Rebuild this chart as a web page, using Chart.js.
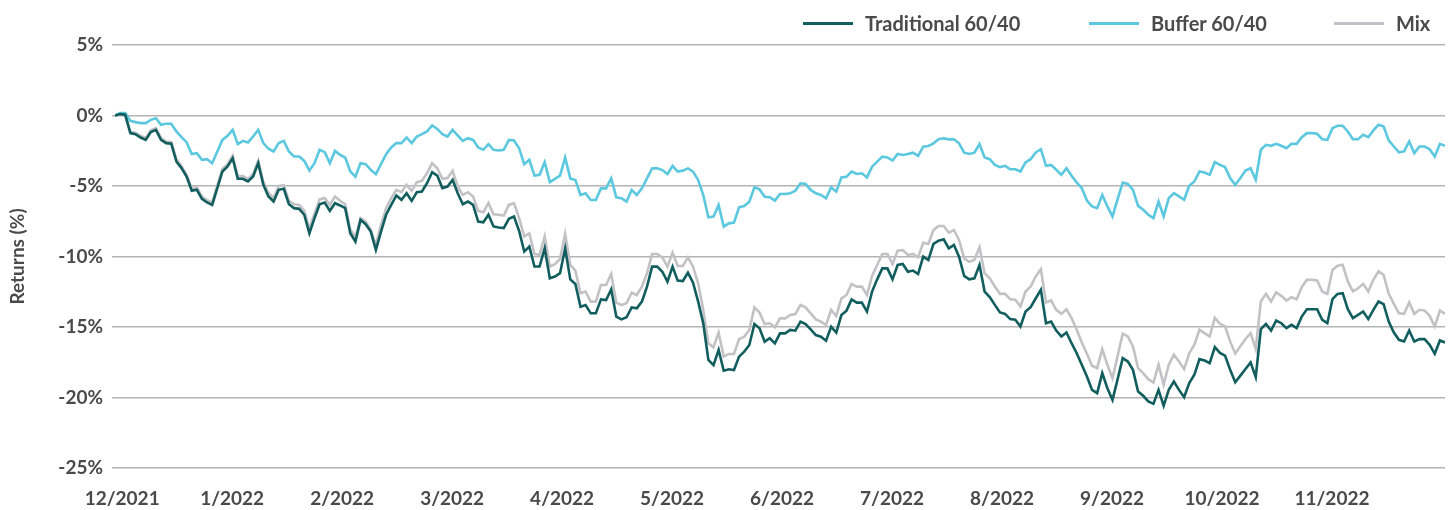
<!DOCTYPE html>
<html>
<head>
<meta charset="utf-8">
<script src="https://cdn.jsdelivr.net/npm/chart.js@4/dist/chart.umd.min.js"></script>
<style>
  body { margin: 0; background: #fff; }
  #wrap { position: relative; width: 1448px; height: 510px; }
  .leg { position: absolute; top: 11px; display: flex; align-items: center;
         font: 700 20px Lato, sans-serif; color: #4a4a4a; white-space: nowrap; }
  .leg i { display: inline-block; width: 50px; height: 3px; margin-right: 12px; }
</style>
</head>
<body>
<div id="wrap">
  <canvas id="chart" width="1448" height="510"></canvas>
  <div class="leg" style="left:803px"><i style="background:#125d5d"></i>Traditional 60/40</div>
  <div class="leg" style="left:1089px"><i style="background:#5cc8df"></i>Buffer 60/40</div>
  <div class="leg" style="left:1334px"><i style="background:#c2c2c6"></i>Mix</div>
</div>
<script>
// month tick labels (evenly spaced along the trading-day index)
const months = ['12/2021', '1/2022', '2/2022', '3/2022', '4/2022', '5/2022',
  '6/2022', '7/2022', '8/2022', '9/2022', '10/2022', '11/2022'];
const tickStart = 1.4;
const tickStep = 21.5;

// cumulative returns, %
const trad = [
  0, 0.1, 0.05, -1.25, -1.32, -1.56, -1.73, -1.18, -1.02, -1.73, -1.96, -2.0, -3.26, -3.73, -4.33, -5.34, -5.27, -5.91, -6.17, -6.34, -5.15, -3.97, -3.62, -3.03, -4.49, -4.49, -4.68, -4.33, -3.38, -4.92, -5.74, -6.1, -5.27, -5.2, -6.29, -6.57, -6.62, -7.04, -8.35, -7.28, -6.29, -6.17,
  -6.76, -6.22, -6.38, -6.57, -8.35, -8.94, -7.4, -7.71, -8.23, -9.53, -8.23, -7.04, -6.34, -5.67, -5.98, -5.51, -6.05, -5.44, -5.39, -4.8, -4.02, -4.26, -5.15, -5.04, -4.56, -5.51, -6.29, -6.1, -6.34, -7.52, -7.57, -7.04, -7.87, -7.94, -7.99, -7.33, -7.16, -8.18, -9.65, -9.29, -10.71, -10.71, -9.41, -11.54, -11.42, -11.18,
  -9.42, -11.62, -11.95, -13.56, -13.44, -14.03, -14.03, -13.04, -13.09, -12.33, -14.27, -14.46, -14.31, -13.61, -13.68, -13.2, -12.14, -10.72, -10.72, -11.08, -11.78, -10.72, -11.71, -11.74, -11.15, -11.86, -13.2, -14.74,
  -17.34, -17.7, -16.63, -18.1, -18.0, -18.05, -17.1, -16.75, -16.28, -14.79, -15.09, -16.04,
  -15.8, -16.16, -15.45, -15.45, -15.21, -15.26, -14.62, -14.79, -15.17, -15.57, -15.69, -15.97, -14.98, -15.4, -14.15, -13.84, -13.04, -13.27, -13.27, -13.91, -12.49, -11.62, -10.84, -10.84, -11.62, -10.6, -10.53, -11.08, -11.0, -11.24, -10.01, -10.25, -9.11, -8.88, -8.78, -9.42, -9.18, -10.01, -11.38, -11.62, -11.55, -10.6, -12.49,
  -12.88, -13.43, -13.97, -14.07, -14.44, -14.49, -14.96, -13.9, -13.59, -12.96, -12.36, -14.73, -14.61, -15.25, -15.67, -15.39, -16.15, -16.86, -17.68, -18.51, -19.46, -19.69, -18.27, -19.34, -20.17, -18.7, -17.21, -17.45, -18.04, -19.57, -19.88, -20.28, -20.45, -19.46, -20.59, -19.46, -18.87, -19.46, -19.98, -18.98, -18.39, -17.28, -17.38, -17.57,
  -16.42, -16.84, -17.03, -18.03, -18.92, -18.45, -17.98, -17.51, -18.55, -15.15, -14.78, -15.25, -14.54, -14.73, -15.08, -14.85, -15.08, -14.26, -13.74, -13.74, -13.74, -14.49, -14.73, -13.03, -12.65, -12.6, -13.74, -14.37, -14.14, -13.9, -14.44, -13.78, -13.19, -13.38, -14.61, -15.39, -15.91, -16.03, -15.25, -16.03, -15.86, -15.86, -16.26, -16.9, -15.96, -16.1
];

const buffer = [
  0, 0.17, 0.17, -0.38, -0.47, -0.54, -0.54, -0.31, -0.19, -0.66, -0.59, -0.59, -1.13, -1.54, -1.89, -2.74, -2.67, -3.14, -3.1, -3.38, -2.55, -1.73, -1.44, -1.02, -2.03, -1.8, -1.91, -1.49, -1.02, -1.96, -2.36, -2.55, -1.96, -1.8, -2.55, -2.91, -2.91, -3.22, -3.9, -3.38, -2.43, -2.6,
  -3.38, -2.51, -2.79, -2.98, -3.97, -4.33, -3.38, -3.45, -3.85, -4.16, -3.45, -2.74, -2.27, -1.96, -1.96, -1.56, -1.96, -1.49, -1.32, -1.13, -0.71, -0.95, -1.32, -1.49, -1.02, -1.42, -1.8, -1.61, -1.73, -2.27, -2.43, -2.03, -2.43, -2.48, -2.43, -1.73, -1.77, -2.32, -3.45, -3.14, -4.26, -4.21, -3.31, -4.73, -4.49, -4.26,
  -2.97, -4.46, -4.57, -5.64, -5.52, -5.99, -5.99, -5.17, -5.17, -4.46, -5.8, -5.87, -6.11, -5.28, -5.64, -5.17, -4.46, -3.75, -3.75, -3.87, -4.15, -3.58, -3.98, -3.91, -3.75, -3.98, -4.57, -5.64,
  -7.22, -7.17, -6.35, -7.88, -7.65, -7.6, -6.51, -6.42, -6.11, -5.09, -5.24, -5.76,
  -5.8, -6.04, -5.57, -5.57, -5.52, -5.33, -4.81, -4.86, -5.28, -5.52, -5.64, -5.87, -5.09, -5.4, -4.39, -4.34, -3.98, -4.15, -4.1, -4.39, -3.63, -3.27, -2.92, -2.97, -3.2, -2.73, -2.8, -2.73, -2.64, -2.87, -2.21, -2.16, -1.97, -1.69, -1.62, -1.69, -1.69, -1.97, -2.64, -2.73, -2.64, -2.02, -2.97,
  -3.1, -3.5, -3.66, -3.57, -3.81, -3.81, -3.97, -3.33, -3.1, -2.62, -2.39, -3.57, -3.5, -3.85, -4.21, -3.74, -4.28, -4.75, -5.15, -6.03, -6.45, -6.57, -5.63, -6.45, -7.16, -5.93, -4.75, -4.85, -5.27, -6.41, -6.69, -7.04, -7.28, -6.1, -7.16, -5.86, -5.51, -5.74, -5.98, -4.99, -4.68, -3.97, -4.04, -4.21,
  -3.31, -3.5, -3.66, -4.44, -4.92, -4.44, -3.9, -3.74, -4.56, -2.43, -2.08, -2.15, -2.01, -2.15, -2.32, -2.01, -2.01, -1.54, -1.25, -1.25, -1.3, -1.68, -1.73, -0.9, -0.73, -0.73, -1.13, -1.68, -1.68, -1.37, -1.54, -1.06, -0.66, -0.78, -1.77, -2.2, -2.62, -2.55, -1.84, -2.67, -2.2, -2.2, -2.39, -2.91, -2.01, -2.15
];

const mix = [
  0, 0.1, 0.05, -1.15, -1.22, -1.45, -1.6, -1.05, -0.9, -1.6, -1.85, -1.9, -3.1, -3.6, -4.2, -5.15, -5.1, -5.75, -6.0, -6.15, -4.95, -3.8, -3.45, -2.85, -4.3, -4.3, -4.5, -4.15, -3.2, -4.7, -5.5, -5.85, -5.0, -4.95, -6.05, -6.3, -6.35, -6.75, -8.05, -6.95, -5.95, -5.85,
  -6.34, -5.74, -6.05, -6.29, -8.11, -8.58, -7.28, -7.52, -8.11, -9.17, -7.75, -6.57, -5.86, -5.27, -5.44, -4.92, -5.34, -4.73, -4.63, -4.09, -3.38, -3.74, -4.49, -4.44, -3.92, -5.04, -5.63, -5.44, -5.74, -6.76, -6.86, -6.22, -7.0, -7.04, -7.09, -6.34, -6.22, -7.28, -8.58, -8.35, -9.83, -9.88, -8.58, -10.71, -10.54, -10.17,
  -8.4, -10.6, -11.0, -12.61, -12.49, -13.2, -13.2, -12.02, -12.02, -11.24, -13.27, -13.44, -13.32, -12.57, -12.73, -12.14, -11.19, -9.82, -9.82, -10.06, -10.72, -9.73, -10.67, -10.67, -10.06, -10.72, -11.9, -13.79,
  -16.16, -16.44, -15.4, -17.1, -16.91, -16.91, -15.87, -15.69, -15.21, -13.61, -13.98, -14.79,
  -14.74, -15.02, -14.39, -14.39, -14.15, -14.08, -13.44, -13.61, -14.03, -14.46, -14.62, -14.86, -13.79, -14.22, -12.97, -12.73, -11.95, -12.14, -12.14, -12.73, -11.38, -10.6, -9.82, -9.82, -10.53, -9.59, -9.54, -9.89, -9.82, -10.06, -9.02, -9.11, -8.12, -7.84, -7.84, -8.31, -8.12, -8.83, -10.13, -10.37, -10.25, -9.35, -11.19,
  -11.54, -12.13, -12.65, -12.65, -13.03, -13.07, -13.55, -12.48, -12.13, -11.42, -10.9, -13.26, -13.12, -13.78, -14.07, -13.74, -14.37, -15.2, -16.1, -16.9, -17.75, -17.92, -16.57, -17.68, -18.63, -17.05, -15.48, -15.67, -16.38, -17.92, -18.27, -18.7, -18.94, -17.68, -19.1, -17.68, -16.97, -17.45, -17.99, -16.86, -16.26, -15.2, -15.44, -15.67,
  -14.36, -14.76, -14.95, -16.02, -16.89, -16.37, -15.85, -15.43, -16.56, -13.19, -12.65, -13.19, -12.55, -12.79, -13.12, -12.88, -13.03, -12.17, -11.65, -11.65, -11.7, -12.48, -12.65, -10.95, -10.66, -10.59, -11.77, -12.48, -12.25, -11.94, -12.48, -11.65, -11.06, -11.3, -12.65, -13.36, -14.02, -14.07, -13.26, -14.07, -13.78, -13.83, -14.21, -14.96, -13.83, -14.07
];

const font = { family: 'Lato, sans-serif', size: 19, weight: '700' };
const textColor = '#4a4a4a';

function pts(arr) {
  return arr.map((v, i) => ({ x: i, y: v }));
}

function line(label, arr, color) {
  return {
    label: label,
    data: pts(arr),
    borderColor: color,
    backgroundColor: color,
    borderWidth: 2.6,
    pointRadius: 0,
    tension: 0,
    fill: false
  };
}

new Chart(document.getElementById('chart'), {
  type: 'line',
  data: {
    datasets: [
      line('Traditional 60/40', trad, '#125d5d'),
      line('Buffer 60/40', buffer, '#5cc8df'),
      line('Mix', mix, '#c2c2c6')
    ]
  },
  options: {
    responsive: false,
    animation: false,
    devicePixelRatio: 1,
    layout: { padding: { top: 45, right: 3, left: 0, bottom: 0 } },
    plugins: { legend: { display: false }, tooltip: { enabled: false } },
    scales: {
      x: {
        type: 'linear',
        min: 0,
        max: trad.length - 1,
        grid: { display: false, drawTicks: false },
        border: { display: false },
        afterBuildTicks: (s) => {
          s.ticks = months.map((m, i) => ({ value: tickStart + i * tickStep }));
        },
        afterFit: (s) => { s.height = 42; },
        ticks: {
          autoSkip: false,
          maxRotation: 0,
          padding: 19,
          color: textColor,
          font: font,
          callback: (v, i) => months[i]
        }
      },
      y: {
        min: -25,
        max: 5,
        grid: { color: '#b4b4b4', lineWidth: 1.5, tickLength: 3 },
        border: { display: false },
        afterFit: (s) => { s.width = 115; },
        ticks: {
          stepSize: 5,
          padding: 9,
          color: textColor,
          font: font,
          callback: (v) => v + '%'
        },
        title: {
          display: true,
          text: 'Returns (%)',
          color: textColor,
          font: { family: 'Lato, sans-serif', size: 19, weight: '700' },
          padding: { top: 6, bottom: 0 }
        }
      }
    }
  }
});
</script>
</body>
</html>
